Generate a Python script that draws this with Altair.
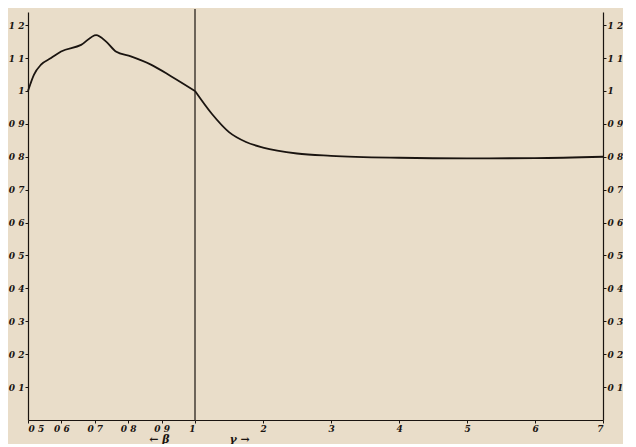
import altair as alt
import pandas as pd

# Left part: beta from 0.5 to 1
beta = [0.5, 0.518, 0.539, 0.569, 0.599, 0.659, 0.704, 0.734, 0.763, 0.808, 0.868, 0.928, 1.0]
beta_val = [1.0, 1.05, 1.08, 1.10, 1.12, 1.14, 1.17, 1.15, 1.12, 1.105, 1.08, 1.045, 1.0]

# Right part: gamma from 1 to 7
gamma = [1, 1.25, 1.5, 1.75, 2, 2.5, 3, 4, 5, 6, 7]
gamma_val = [1.0, 0.93, 0.875, 0.845, 0.828, 0.81, 0.803, 0.797, 0.795, 0.796, 0.8]

y_ticks = [0.1, 0.2, 0.3, 0.4, 0.5, 0.6, 0.7, 0.8, 0.9, 1.0, 1.1, 1.2]
beta_ticks = [0.5, 0.6, 0.7, 0.8, 0.9, 1.0]
gamma_ticks = [2, 3, 4, 5, 6, 7]

FONT = "DejaVu Serif"
INK = "#1a1410"
H = 408

left_df = pd.DataFrame({"b": beta, "v": beta_val})
right_df = pd.DataFrame({"g": gamma, "v": gamma_val})

yscale = alt.Scale(domain=[0, 1.24], nice=False, zero=True)
dec_label = "datum.value == 1 ? '1' : replace(format(datum.value, '.1f'), '.', ' ')"

axis_common = dict(
    grid=False, domainColor=INK, tickColor=INK, labelColor=INK,
    labelFont=FONT, labelFontStyle="italic", labelFontWeight="bold",
    labelFontSize=9, tickSize=3, domainWidth=1.2, labelPadding=1,
)
title_common = dict(
    titleFont=FONT, titleFontStyle="italic", titleFontWeight="bold",
    titleFontSize=11, titleColor=INK, titleBaseline="middle", titleY=19,
)

left_line = alt.Chart(left_df).mark_line(
    color=INK, strokeWidth=1.8, interpolate="monotone"
).encode(
    x=alt.X("b:Q", scale=alt.Scale(domain=[0.5, 1.0], nice=False, zero=False),
            axis=alt.Axis(values=beta_ticks, labelExpr=dec_label,
                          title="← β", titleAnchor="end", titleX=141,
                          **title_common, **axis_common)),
    y=alt.Y("v:Q", scale=yscale,
            axis=alt.Axis(values=y_ticks, orient="left", title=None,
                          labelExpr=dec_label, **axis_common)),
).properties(width=167, height=H)

right_line = alt.Chart(right_df).mark_line(
    color=INK, strokeWidth=1.8, interpolate="monotone"
).encode(
    x=alt.X("g:Q", scale=alt.Scale(domain=[1, 7], nice=False, zero=False),
            axis=alt.Axis(values=gamma_ticks, format="d", title="γ →",
                          titleAnchor="start", titleX=34,
                          **title_common, **axis_common)),
    y=alt.Y("v:Q", scale=yscale,
            axis=alt.Axis(values=y_ticks, orient="right", title=None,
                          labelExpr=dec_label, **axis_common)),
)

divider = alt.Chart(pd.DataFrame({"g": [1]})).mark_rule(color=INK, strokeWidth=1.2).encode(
    x=alt.X("g:Q"), y=alt.value(-3), y2=alt.value(H)
)

right = alt.layer(right_line, divider).properties(width=408, height=H)

chart = alt.hconcat(left_line, right, spacing=0, bounds="flush").properties(
    background="#e9ddc9",
    padding={"left": 0, "right": 0, "top": 0, "bottom": 0},
).configure_view(stroke=None)

chart.save("out.html", embed_options={"renderer": "svg", "actions": False})
